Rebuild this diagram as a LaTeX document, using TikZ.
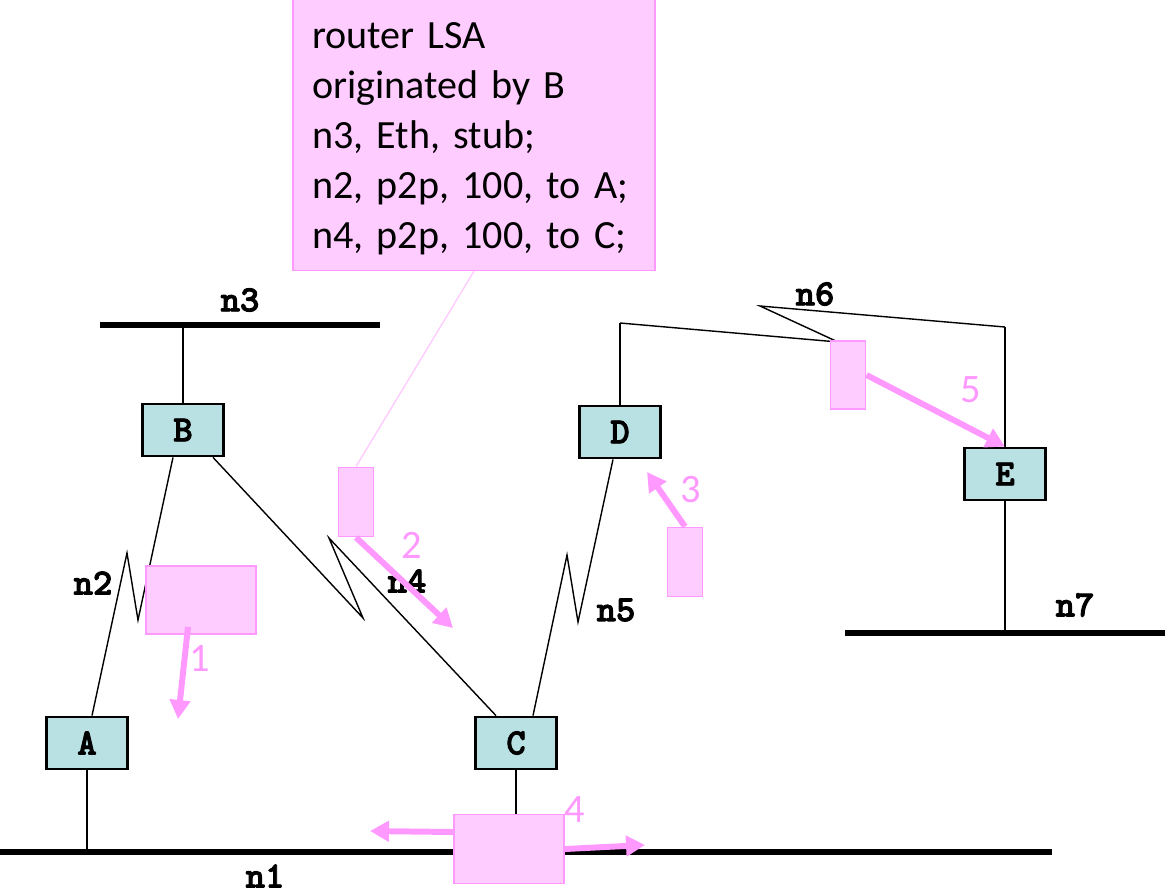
\documentclass[tikz,border=0pt]{standalone}
\usepackage{fontspec}
\setmainfont{Carlito}
\newfontfamily\courier{lmmonolt10-bold.otf}[FakeBold=2.5]
\usetikzlibrary{arrows.meta}
\usetikzlibrary{calc}
\definecolor{routercol}{rgb}{0.725, 0.878, 0.890}
\definecolor{pinkfill}{rgb}{1, 0.8, 1}
\definecolor{pinkline}{rgb}{1, 0.6, 1}

\begin{document}
\begin{tikzpicture}[x=0.02cm, y=-0.02cm,
  router/.style={draw, line width=1.3pt, fill=routercol, minimum width=1.62cm, minimum height=1.05cm, inner sep=0pt, font=\courier\fontsize{21}{24}\selectfont},
  lbl/.style={inner sep=0pt, font=\courier\fontsize{21}{24}\selectfont},
  bus/.style={line width=3.2pt},
  stub/.style={line width=1.4pt},
  link/.style={line width=0.8pt},
  pkt/.style={draw=pinkline, line width=1.1pt, fill=pinkfill, inner sep=0pt},
  flood/.style={draw=pinkline, line width=3.4pt, -{Triangle[length=10.8pt, width=11.4pt]}},
  num/.style={text=pinkline, inner sep=0pt, font=\fontsize{23}{26}\selectfont}]
\useasboundingbox (0, 0) rectangle (1168, 893);
\coordinate (n1w) at (0, 852);
\coordinate (n1e) at (1052, 852);
\coordinate (n3w) at (100, 325);
\coordinate (n3e) at (380, 325);
\coordinate (n7w) at (845, 633);
\coordinate (n7e) at (1165, 633);
\coordinate (n6l) at (620, 323);
\coordinate (n6r) at (1005, 327);
\draw [bus] (n1w) -- (n1e);
\draw [bus] (n3w) -- (n3e);
\draw [bus] (n7w) -- (n7e);
\node [router] (A) at (87, 743) {A};
\node [router] (B) at (183, 430) {B};
\node [router] (C) at (516, 743) {C};
\node [router] (D) at (620, 432) {D};
\node [router] (E) at (1005, 474) {E};
\draw [stub] (A.south) -- (A.south |- n1w);
\draw [stub] (C.south) -- (C.south |- n1w);
\draw [stub] (B.north) -- (B.north |- n3w);
\draw [stub] (E.south) -- (E.south |- n7w);
\draw [stub] (D.north) -- (n6l);
\draw [stub] (n6r) -- (E.north);
\draw [link] ($(A.north)+(5, 0)$) -- (127, 553) -- (138, 620) -- ($(B.south)+(-10, 0)$);
\draw [link] ($(B.south)+(30, 0)$) -- (363, 618) -- (329, 538) -- ($(C.north)+(-20, 0)$);
\draw [link] ($(C.north)+(17, 0)$) -- (567, 555) -- (578, 622) -- ($(D.south)+(-7, 0)$);
\draw [link] (n6l) -- (838, 342) -- (760, 306) -- (n6r);
\node [lbl] (l1) at (265, 876) {n1};
\node [lbl] (l2) at (93, 583) {n2};
\node [lbl] (l3) at (240, 300) {n3};
\node [lbl] (l4) at (407, 581) {n4};
\node [lbl] (l5) at (616, 610) {n5};
\node [lbl] (l6) at (815, 294) {n6};
\node [lbl] (l7) at (1075, 605) {n7};
\node [draw=pinkline, line width=0.8pt, fill=pinkfill, text width=6.48cm, inner xsep=0.38cm, minimum height=5.42cm, align=left, font=\fontsize{22.8}{28.5}\selectfont] (lsa) at (474, 135) {\rule{0pt}{0.85em}router LSA\\ originated by B\\ n3, Eth, stub;\\ n2, p2p, 100, to A;\\ n4, p2p, 100, to C;};
\node [pkt, minimum width=2.2cm, minimum height=1.36cm] (pkt1) at (201, 600) {};
\node [pkt, minimum width=0.7cm, minimum height=1.38cm] (pkt2) at (356, 502) {};
\node [pkt, minimum width=0.7cm, minimum height=1.38cm] (pkt3) at (685, 562) {};
\node [pkt, minimum width=2.2cm, minimum height=1.38cm] (pkt4) at (509, 849) {};
\node [pkt, minimum width=0.7cm, minimum height=1.36cm] (pkt5) at (848, 375) {};
\draw [pinkfill, line width=0.8pt] (pkt2.north) -- (lsa.south);
\coordinate (t1) at (178, 719);
\coordinate (t2) at (453, 628);
\coordinate (t3) at (647, 472);
\coordinate (t4l) at (370, 831);
\coordinate (t4r) at (645, 845);
\draw [flood] ($(pkt1.south)+(-13, -8)$) -- (t1);
\draw [flood] (pkt2.south) -- (t2);
\draw [flood] (pkt3.north) -- (t3);
\draw [flood] ($(pkt4.west)+(0, -17)$) -- (t4l);
\draw [flood] (pkt4.east) -- (t4r);
\draw [flood] (pkt5.east) -- (E.north);
\node [num] (k1) at (200, 658) {1};
\node [num] (k2) at (412, 545) {2};
\node [num] (k3) at (691, 490) {3};
\node [num] (k4) at (575, 810) {4};
\node [num] (k5) at (971, 390) {5};
\end{tikzpicture}
\end{document}
